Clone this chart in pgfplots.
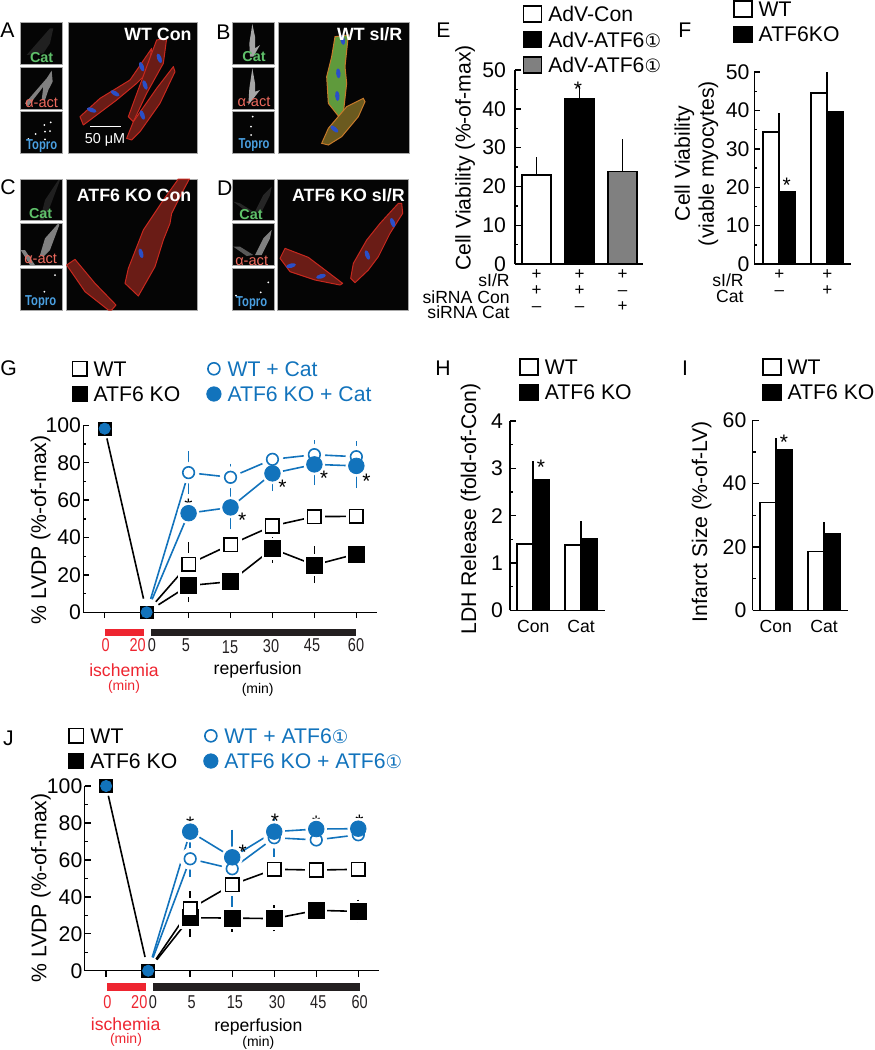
\documentclass[border=0pt]{standalone}
\usepackage{pgfplots}
\usepackage{pgfplotstable}
\usepackage{fontspec}
\pgfplotsset{compat=1.18}
\setmainfont{Liberation Sans}
\newfontfamily\djv{DejaVu Sans}
\definecolor{bluec}{HTML}{1273BC}
\definecolor{redc}{HTML}{EE2530}
\definecolor{darkc}{HTML}{231F20}
\definecolor{greyc}{HTML}{808080}
\definecolor{imbg}{HTML}{050505}
\definecolor{imbd}{HTML}{A8A8A8}
\definecolor{cred}{HTML}{6A1C16}
\definecolor{credd}{HTML}{C8281E}
\definecolor{cgreen}{HTML}{5F9A3C}
\definecolor{cora}{HTML}{C87A2A}
\definecolor{colive}{HTML}{6B5A1F}
\definecolor{nuc}{HTML}{2A4FC8}
\definecolor{lgreen}{HTML}{5FC06A}
\definecolor{lsalm}{HTML}{EE6A5E}
\definecolor{lblue}{HTML}{4A9FE0}
\newcommand\fa{\fontsize{10.6}{12}\selectfont}
\newcommand\fb{\fontsize{8.8}{9}\selectfont}
\newcommand\fc{\fontsize{7}{8}\selectfont}
\newcommand\ft{\fontsize{8.9}{10}\bfseries\selectfont}
\newcommand\fm{\fontsize{7.2}{8}\selectfont}
\newcommand\fn{\fontsize{9.3}{10}\selectfont}
\newcommand\fpm{\fontsize{8.5}{8}\selectfont}
\newcommand\ci{{\djv\fontsize{9.2}{9}\selectfont ①}}
\newcommand\nar[1]{\scalebox{.78}[1]{#1}}
\tikzset{starn/.style={font=\fontsize{10.5}{11}\selectfont,inner sep=0pt,yshift=-2.3pt}}

% ---- data ----
\pgfplotstableread{
x y ep em
2 25.7 8.9 8.9
3 36.2 1 1
4 46.2 1 1
5 51.2 1 1
6 51.3 1 1
}\GWT
\pgfplotstableread{
x y ep em
2 14.3 6 6
3 16.4 3 3
4 34.0 4.5 4.5
5 25.3 7.1 6.8
6 31.2 1.5 1.5
}\GKO
\pgfplotstableread{
x y ep em
2 74.7 8.5 8.4
3 72.2 4.4 4.4
4 81.8 1 1
5 84.3 4.8 4.8
6 83.2 5.4 5.4
}\GWC
\pgfplotstableread{
x y ep em
2 53.0 3 3
3 56.1 9.3 8.9
4 74.3 6.6 6.6
5 79.1 8.2 8.2
6 78.3 9 9
}\GKC
\pgfplotstableread{
x y ep em
2 33.4 6.6 7
3 46.6 3 3
4 54.9 1 1
5 54.5 1 1
6 54.9 1 1
}\JWT
\pgfplotstableread{
x y ep em
2 28.7 6 7.6
3 28.5 6.2 4.5
4 28.2 4.3 4
5 32.7 1.5 1.5
6 32.1 3.5 3
}\JKO
\pgfplotstableread{
x y ep em
2 60.6 6.5 6.8
3 55.2 11.4 18.7
4 72.0 7.4 7.4
5 70.8 2 2
6 73.6 2 2
}\JWA
\pgfplotstableread{
x y ep em
2 75.3 1.5 1.5
3 61.4 12.1 6.4
4 75.3 4.1 4.1
5 76.7 2 2
6 76.9 1.5 1.5
}\JKA

\pgfplotsset{
  base/.style={scale only axis, axis lines=left, axis line style={-,line width=.7pt},
    tick style={line width=.7pt,black}, major tick length=2.9pt, minor tick length=1.5pt,
    ytick align=inside, enlargelimits=false,
    tick label style={font=\fa}, /pgf/number format/assume math mode=true,
    yticklabel style={inner sep=0pt},
    label style={font=\fa},
    legend cell align=left,
    legend style={draw=none,fill=none,inner sep=0pt,outer sep=0pt,anchor=north west,font=\fa,
      row sep=4pt,column sep=3pt,nodes={inner sep=0pt,text height=7.6pt,text depth=0pt}}},
  barax/.style={base, xtick style={draw=none}, xticklabel style={inner sep=0pt,font=\fb}},
  bw/.style={ybar, forget plot, draw=black, fill=white, line width=.8pt, #1, errs},
  errs/.style={error bars/.cd, y dir=plus, y explicit, error bar style={line width=.8pt,black},
     error mark options={black,mark size=2.7pt,line width=.8pt}},
  ksqw/.style={legend image code/.code={\draw[draw=black,fill=white,line width=.8pt](-4.5pt,-4pt)rectangle(4.5pt,4pt);}},
  ksqk/.style={legend image code/.code={\draw[draw=black,fill=black,line width=.8pt](-4.5pt,-4pt)rectangle(4.5pt,4pt);}},
  ksqg/.style={legend image code/.code={\draw[draw=black,fill=greyc,line width=.8pt](-4.5pt,-4pt)rectangle(4.5pt,4pt);}},
  ksw/.style={legend image code/.code={\draw[draw=black,fill=white,line width=.8pt](-3.6pt,-3.6pt)rectangle(3.6pt,3.6pt);}},
  ksk/.style={legend image code/.code={\draw[draw=black,fill=black,line width=.8pt](-3.6pt,-3.6pt)rectangle(3.6pt,3.6pt);}},
  kcw/.style={legend image code/.code={\draw[draw=bluec,fill=white,line width=.8pt](0,0)circle(3pt);}},
  kck/.style={legend image code/.code={\fill[bluec](0,0)circle(3.6pt);}},
  lvdp/.style={base, xmin=-.51,xmax=6.5,ymin=0,ymax=100, xtick={0,...,6}, xticklabels={},
    xtick align=outside, ytick={0,20,...,100}, minor ytick={10,30,...,90},
    clip=false, ylabel={\% LVDP (\%-of-max)}, yticklabel style={xshift=-1pt}},
  open sq/.style={color=black, mark=square*, mark options={fill=white,line width=.8pt}, mark size=3.4pt},
  full sq/.style={color=black, mark=square*, mark options={fill=black}, mark size=4pt},
  open ci/.style={color=bluec, mark=*, mark options={fill=white,line width=.8pt}, mark size=2.9pt},
  full ci/.style={color=bluec, mark=*, mark options={fill=bluec}, mark size=3.9pt},
}
\newcommand\sline[2]{\addplot[forget plot,#1,line width=.8pt,mark=none] table[x=x,y=y]{#2};}
\newcommand\shalo[2]{\addplot[forget plot,only marks,white,mark=#1,mark size=5.2pt] table[x=x,y=y]{#2};}
\newcommand\smark[2]{\addplot[forget plot,only marks,#1,error bars/.cd,y dir=both,y explicit,
   error bar style={line width=.8pt},error mark options={mark size=2.7pt,line width=.8pt}]
   table[x=x,y=y,y error plus=ep,y error minus=em]{#2};}

\begin{document}
\begin{tikzpicture}
\useasboundingbox (0,0) rectangle (437pt,-525pt);
% ---- micrographs, coordinates at 3x pixels ----
\begin{scope}[x=.16667pt,y=-.16667pt]
  \tikzset{im/.style={draw=imbd,fill=imbg,line width=.5pt},
    th/.style={font=\fontsize{7.2}{8}\bfseries\selectfont,inner sep=0pt},
    pt/.style={white,font=\ft,inner sep=0pt}}
  \newcommand\cell[2]{\filldraw[fill=cred,draw=credd,line width=.5pt,line join=round] plot coordinates {#2} -- cycle;}
  \newcommand\nucl[3]{\fill[nuc,rotate around={#3:(#1,#2)}] (#1,#2) ellipse (5pt*.5 and 2.2pt*.5);}
  \newcommand\tdots[1]{\foreach \p in {#1} \fill[white] \p circle (.5pt);}
  % boxes
  \foreach \xa/\xb/\xc/\xd in {62/188/204/593,696/822/835/1228}{
    \foreach \ya/\yb in {68/193,201/327,333/459} \filldraw[im] (\xa,\ya) rectangle (\xb,\yb);
    \filldraw[im] (\xc,68) rectangle (\xd,459);}
  \foreach \xa/\xb/\xc/\xd in {62/188/200/593,696/822/832/1226}{
    \foreach \ya/\yb in {537/662,670/797,804/930} \filldraw[im] (\xa,\ya) rectangle (\xb,\yb);
    \filldraw[im] (\xc,537) rectangle (\xd,930);}
  % A
  \cell{}{(240,350)(300,295)(390,240)(455,145)(445,215)(410,250)(350,300)(250,375)}
  \cell{}{(385,350)(440,200)(470,120)(500,115)(490,190)(440,280)(400,365)}
  \cell{}{(380,415)(400,365)(470,265)(520,200)(525,215)(480,310)(420,395)(395,420)}
  \nucl{275}{330}{-20}\nucl{345}{280}{-30}\nucl{425}{200}{-70}\nucl{478}{175}{-70}\nucl{435}{255}{-70}\nucl{427}{345}{-70}
  \fill[gray!25!black] (80,165)--(150,85)--(160,85)--(150,130)--(130,160)--cycle;
  \fill[gray] (75,310)--(140,235)--(155,212)--(158,245)--(145,270)--(135,300)--(125,300)--(130,260)--(85,318)--cycle;
  \tdots{(133,375),(152,367),(135,395),(150,393),(135,418),(107,402),(85,417)}
  \node[th,lgreen] at (125,172) {Cat};
  \node[th,lsalm,font=\fontsize{7.3}{8}\selectfont] at (125,308) {α-act};
  \node[th,lblue] at (125,438) {\nar{Topro}};
  \node[pt,anchor=east] at (576,103) {WT Con};
  \draw[white,line width=.6pt] (270,380)--(363,380);
  \node[white,font=\fm,inner sep=0pt] at (315,421) {50 μM};
  % B
  \filldraw[fill=cgreen,draw=cora,line width=.5pt] (1005,110)--(1045,105)--(1035,200)--(1040,250)--(1030,340)--(1015,348)--(985,310)--(980,230)--(995,170)--cycle;
  \filldraw[fill=colive,draw=cora,line width=.5pt] (965,430)--(985,385)--(1040,320)--(1090,295)--(1095,305)--(1075,350)--(1025,410)--(985,435)--cycle;
  \nucl{1028}{120}{-80}\nucl{1015}{220}{-85}\nucl{1012}{288}{-85}\nucl{1003}{387}{-40}
  \fill[gray!70!white] (748,130)--(757,72)--(765,110)--(765,145)--(780,135)--(760,170)--(750,170)--cycle;
  \fill[gray!70!white] (748,265)--(757,205)--(765,250)--(765,275)--(780,270)--(745,315)--cycle;
  \tdots{(758,350),(753,380),(753,405)}
  \node[th,lgreen] at (762,170) {Cat};
  \node[th,lsalm,font=\fontsize{7.3}{8}\selectfont] at (762,307) {α-act};
  \node[th,lblue] at (762,436) {\nar{Topro}};
  \node[pt,anchor=east] at (1208,103) {WT sI/R};
  % C, D  (y from the lower row)
  \begin{scope}[shift={(0,510)}]
  \cell{}{(375,340)(385,295)(430,180)(490,90)(535,27)(568,27)(545,70)(515,130)(510,160)(490,210)(465,290)(415,378)}
  \cell{}{(200,285)(225,268)(285,340)(348,405)(335,420)(325,420)(255,365)}
  \nucl{423}{250}{-75}
  \fill[gray!25!black] (120,150)--(135,90)--(175,30)--(180,30)--(150,110)--(130,150)--cycle;
  \fill[gray] (120,255)--(135,205)--(175,160)--(178,165)--(150,240)--(130,260)--cycle;
  \fill[gray] (62,240)--(75,240)--(105,285)--(90,285)--cycle;
  \tdots{(133,365),(165,315)}
  \node[th,lgreen] at (122,130) {Cat};
  \node[th,lsalm,font=\fontsize{7.3}{8}\selectfont] at (122,268) {α-act};
  \node[th,lblue] at (122,397) {\nar{Topro}};
  \node[pt,anchor=east] at (575,75) {ATF6 KO Con};
  \cell{}{(1052,325)(1060,280)(1100,210)(1140,160)(1195,100)(1205,100)(1208,130)(1170,190)(1135,260)(1105,300)(1065,338)}
  \cell{}{(840,265)(855,235)(925,262)(1028,340)(1020,345)(945,330)(870,305)}
  \nucl{1178}{158}{-70}\nucl{1102}{255}{-70}\nucl{873}{287}{15}\nucl{963}{319}{15}
  \fill[gray!30!black] (765,125)--(790,75)--(815,50)--(810,75)--(785,125)--cycle;
  \fill[gray!30!black] (700,95)--(720,100)--(760,125)--(740,125)--cycle;
  \fill[gray] (765,255)--(790,205)--(815,180)--(810,205)--(785,255)--cycle;
  \fill[gray!70!black] (700,230)--(720,230)--(760,255)--(740,258)--cycle;
  \tdots{(805,337),(782,367),(708,377)}
  \node[th,lgreen] at (753,135) {Cat};
  \node[th,lsalm,font=\fontsize{7.3}{8}\selectfont] at (755,272) {α-act};
  \node[th,lblue] at (755,400) {\nar{Topro}};
  \node[pt,anchor=east] at (1215,75) {ATF6 KO sI/R};
  \end{scope}
\end{scope}
% ---- pixel scope: anchors, letters ----
\begin{scope}[x=.5pt,y=-.5pt]
  \coordinate (aE) at (515,264);
  \coordinate (aF) at (754.3,264);
  \coordinate (aG) at (83.3,612.3);
  \coordinate (aH) at (510,610.3);
  \coordinate (aI) at (752.7,610.3);
  \coordinate (aJ) at (84.7,970.7);
  \foreach \t/\x/\y in {A/0/30,B/216/32,C/0/187,D/216.7/188,E/436/30,F/678/30,G/0/368,H/435/368,I/681.7/368,J/2.7/738}
    \node[anchor=west,inner sep=0pt,font=\fa] at (\x,\y) {\t};
\end{scope}

% ---- E ----
\begin{axis}[barax, at={(aE)}, anchor=south west, width=64pt, height=97pt,
  xmin=-.5,xmax=2.477,ymin=0,ymax=50, ytick={0,10,...,50}, minor ytick={5,15,...,45},
  yticklabel style={xshift=-4.3pt}, xtick={0,1,2},
  xticklabel style={font=\fpm,align=center,yshift=-1pt},
  xticklabels={{+\\+\\–},{+\\+\\–},{+\\–\\+}},
  ylabel={Cell Viability (\%-of-max)}, ylabel style={at={(axis description cs:-.39,.546)},anchor=center},
  legend style={at={(.06,1.335)}}, bar width=14.4pt]
  \addlegendimage{ksqw}\addlegendentry{AdV-Con}
  \addlegendimage{ksqk}\addlegendentry{AdV-ATF6\ci}
  \addlegendimage{ksqg}\addlegendentry{AdV-ATF6\ci}
  \addplot[bw={fill=white}] coordinates {(0,22.9) +- (0,3.2)};
  \addplot[bw={fill=black}] coordinates {(1,42.7) +- (0,1.9)};
  \addplot[bw={fill=greyc}] coordinates {(2,23.8) +- (0,7)};
  \node[starn] at (axis cs:.965,46.1) {*};
\end{axis}
% ---- F ----
\begin{axis}[barax, at={(aF)}, anchor=south west, width=48.2pt, height=96pt,
  xmin=-.52,xmax=1.4875,ymin=0,ymax=50, ytick={0,10,...,50}, minor ytick={5,15,...,45},
  yticklabel style={xshift=-2.2pt}, xtick={0,1},
  xticklabel style={font=\fpm,align=center,yshift=-1pt},
  xticklabels={{+\\–},{+\\+}},
  ylabel={Cell Viability\\(viable myocytes)}, ylabel style={align=center,at={(axis description cs:-.60,.523)},anchor=center},
  legend style={at={(-.22,1.375)}}, bar width=8.2pt]
  \addlegendimage{ksqw}\addlegendentry{WT}
  \addlegendimage{ksqk}\addlegendentry{ATF6KO}
  \addplot[bw={fill=white,bar shift=-4.1pt}] coordinates {(0,34.3) +- (0,3.5) (1,44.6) +- (0,4)};
  \addplot[bw={fill=black,bar shift=4.1pt}] coordinates {(0,18.8) +- (0,1.5) (1,39.7) +- (0,2.5)};
  \node[starn] at (axis cs:.154,21.6) {*};
\end{axis}
% ---- H ----
\begin{axis}[barax, at={(aH)}, anchor=south west, width=47.5pt, height=94.65pt,
  xmin=-.488,xmax=1.503,ymin=0,ymax=4, ytick={0,1,2,3,4}, minor ytick={.5,1.5,2.5,3.5},
  yticklabel style={xshift=-3.3pt}, xtick={0,1}, xticklabels={Con,Cat},
  xticklabel style={yshift=-3.5pt},
  ylabel={LDH Release (fold-of-Con)}, ylabel style={at={(axis description cs:-.414,.534)},anchor=center},
  legend style={at={(.098,1.333)}}, bar width=8pt]
  \addlegendimage{ksqw}\addlegendentry{WT}
  \addlegendimage{ksqk}\addlegendentry{ATF6 KO}
  \addplot[bw={fill=white,bar shift=-4pt}] coordinates {(0,1.40) +- (0,.17) (1,1.38) +- (0,.16)};
  \addplot[bw={fill=black,bar shift=4pt}] coordinates {(0,2.75) +- (0,.29) (1,1.51) +- (0,.26)};
  \node[starn] at (axis cs:.16,3.13) {*};
\end{axis}
% ---- I ----
\begin{axis}[barax, at={(aI)}, anchor=south west, width=47.8pt, height=95pt,
  xmin=-.476,xmax=1.503,ymin=0,ymax=60, ytick={0,20,40,60}, minor ytick={10,30,50},
  yticklabel style={xshift=-3pt}, xtick={0,1}, xticklabels={Con,Cat},
  xticklabel style={yshift=-3.5pt},
  ylabel={Infarct Size (\%-of-LV)}, ylabel style={at={(axis description cs:-.533,.466)},anchor=center},
  legend style={at={(.098,1.328)}}, bar width=8pt]
  \addlegendimage{ksqw}\addlegendentry{WT}
  \addlegendimage{ksqk}\addlegendentry{ATF6 KO}
  \addplot[bw={fill=white,bar shift=-4pt}] coordinates {(0,34.1) +- (0,2.4) (1,18.6) +- (0,.9)};
  \addplot[bw={fill=black,bar shift=4pt}] coordinates {(0,50.8) +- (0,1.9) (1,24.1) +- (0,2)};
  \node[starn] at (axis cs:.17,54.6) {*};
\end{axis}
% ---- G ----
\begin{axis}[lvdp, at={(aG)}, anchor=south west, width=147pt, height=93.5pt,
  ylabel style={at={(axis description cs:-.145,.44)},anchor=center},
  legend columns=2, legend style={at={(-.04,1.345)},row sep=4.6pt,
    /tikz/every even column/.append style={column sep=13pt}}]
  \addlegendimage{ksw}\addlegendentry{WT}
  \addlegendimage{kcw}\addlegendentry{\textcolor{bluec}{WT + Cat}}
  \addlegendimage{ksk}\addlegendentry{ATF6 KO}
  \addlegendimage{kck}\addlegendentry{\textcolor{bluec}{ATF6 KO + Cat}}
  \sline{black}{\GWT}\sline{black}{\GKO}\sline{bluec}{\GWC}\sline{bluec}{\GKC}
  \shalo{square*}{\GWT}\shalo{square*}{\GKO}\shalo{*}{\GWC}\shalo{*}{\GKC}
  \addplot[forget plot,black,line width=.8pt,shorten <=5pt,shorten >=7pt] coordinates {(0,98.2)(1,0)};
  \addplot[forget plot,black,line width=.8pt,shorten <=7pt] coordinates {(1,0)(2,25.7)};
  \addplot[forget plot,black,line width=.8pt,shorten <=7pt] coordinates {(1,0)(2,14.3)};
  \addplot[forget plot,bluec,line width=.8pt,shorten <=7pt] coordinates {(1,0)(2,74.7)};
  \addplot[forget plot,bluec,line width=.8pt,shorten <=7pt] coordinates {(1,0)(2,53.0)};
  \smark{open sq}{\GWT}\smark{full sq}{\GKO}\smark{open ci}{\GWC}\smark{full ci}{\GKC}
  \addplot[forget plot,only marks,black,mark=square*,mark size=3.2pt] coordinates {(0,98.2)(1,0)};
  \addplot[forget plot,only marks,bluec,mark=*,mark size=2.8pt] coordinates {(0,98.2)(1,0)};
  \node[starn] at (axis cs:2,59.2) {*};
  \node[starn] at (axis cs:3.28,51.5) {*};
  \node[starn] at (axis cs:4.24,69.3) {*};
  \node[starn] at (axis cs:5.23,74.3) {*};
  \node[starn] at (axis cs:6.24,72.5) {*};
\end{axis}
% ---- J ----
\begin{axis}[lvdp, at={(aJ)}, anchor=south west, width=147.3pt, height=92.35pt,
  ylabel style={at={(axis description cs:-.149,.448)},anchor=center},
  legend columns=2, legend style={at={(-.055,1.315)},row sep=4.6pt,
    /tikz/every even column/.append style={column sep=13pt}}]
  \addlegendimage{ksw}\addlegendentry{WT}
  \addlegendimage{kcw}\addlegendentry{\textcolor{bluec}{WT + ATF6\ci}}
  \addlegendimage{ksk}\addlegendentry{ATF6 KO}
  \addlegendimage{kck}\addlegendentry{\textcolor{bluec}{ATF6 KO + ATF6\ci}}
  \sline{black}{\JWT}\sline{black}{\JKO}\sline{bluec}{\JWA}\sline{bluec}{\JKA}
  \shalo{square*}{\JWT}\shalo{square*}{\JKO}\shalo{*}{\JWA}\shalo{*}{\JKA}
  \addplot[forget plot,black,line width=.8pt,shorten <=5pt,shorten >=7pt] coordinates {(0,100)(1,0)};
  \addplot[forget plot,black,line width=.8pt,shorten <=7pt] coordinates {(1,0)(2,33.4)};
  \addplot[forget plot,black,line width=.8pt,shorten <=7pt] coordinates {(1,0)(2,28.7)};
  \addplot[forget plot,bluec,line width=.8pt,shorten <=7pt] coordinates {(1,0)(2,60.6)};
  \addplot[forget plot,bluec,line width=.8pt,shorten <=7pt] coordinates {(1,0)(2,75.3)};
  \smark{full sq}{\JKO}\smark{open sq}{\JWT}\smark{open ci}{\JWA}\smark{full ci}{\JKA}
  \addplot[forget plot,only marks,black,mark=square*,mark size=3.2pt] coordinates {(0,100)(1,0)};
  \addplot[forget plot,only marks,bluec,mark=*,mark size=2.8pt] coordinates {(0,100)(1,0)};
  \node[starn] at (axis cs:2,82) {*};
  \node[starn] at (axis cs:3.25,66.6) {*};
  \node[starn] at (axis cs:4.02,83.2) {*};
  \node[starn] at (axis cs:5,82.5) {*};
  \node[starn] at (axis cs:6.03,82.7) {*};
\end{axis}
% ---- rows under E, F; time bars under G, J ----
\begin{scope}[x=.5pt,y=-.5pt]
  \tikzset{rl/.style={anchor=east,inner sep=0pt,font=\fb},
    tl/.style={inner sep=0pt,font=\fn},
    cl/.style={inner sep=0pt,font=\fb},
    ml/.style={inner sep=0pt,font=\fc}}
  \node[rl] at (510,280) {sI/R};
  \node[rl] at (510,297) {siRNA Con};
  \node[rl] at (510,312) {siRNA Cat};
  \node[rl] at (744,280) {sI/R};
  \node[rl] at (744,296) {Cat};
  % G
  \fill[redc] (105,629.3) rectangle (143.7,636);
  \fill[darkc] (150.7,629.3) rectangle (356,636);
  \foreach \t/\x/\y in {0/105.7/645,20/137.7/645} \node[tl,redc] at (\x,\y) {\nar{\t}};
  \foreach \t/\x/\y in {0/152/645,5/186/645,15/230/647,30/271/646,45/312/645,60/356/645} \node[tl,darkc] at (\x,\y) {\nar{\t}};
  \node[cl,redc] at (124,670) {ischemia};
  \node[ml,redc] at (124,687) {(min)};
  \node[cl] at (257.7,670) {reperfusion};
  \node[ml] at (257.7,690) {(min)};
  % J
  \fill[redc] (106.7,983.3) rectangle (145.7,990.7);
  \fill[darkc] (152.7,983.3) rectangle (359.7,990.7);
  \foreach \t/\x in {0/107.3,20/139.3} \node[tl,redc] at (\x,1001.7) {\nar{\t}};
  \foreach \t/\x in {0/153,5/191.7,15/235,30/277,45/318.3,60/359.7} \node[tl,darkc] at (\x,1001.7) {\nar{\t}};
  \node[cl,redc] at (125.7,1024) {ischemia};
  \node[ml,redc] at (126,1040) {(min)};
  \node[cl] at (258.3,1027) {reperfusion};
  \node[ml] at (258.3,1042.7) {(min)};
\end{scope}
\end{tikzpicture}
\end{document}
